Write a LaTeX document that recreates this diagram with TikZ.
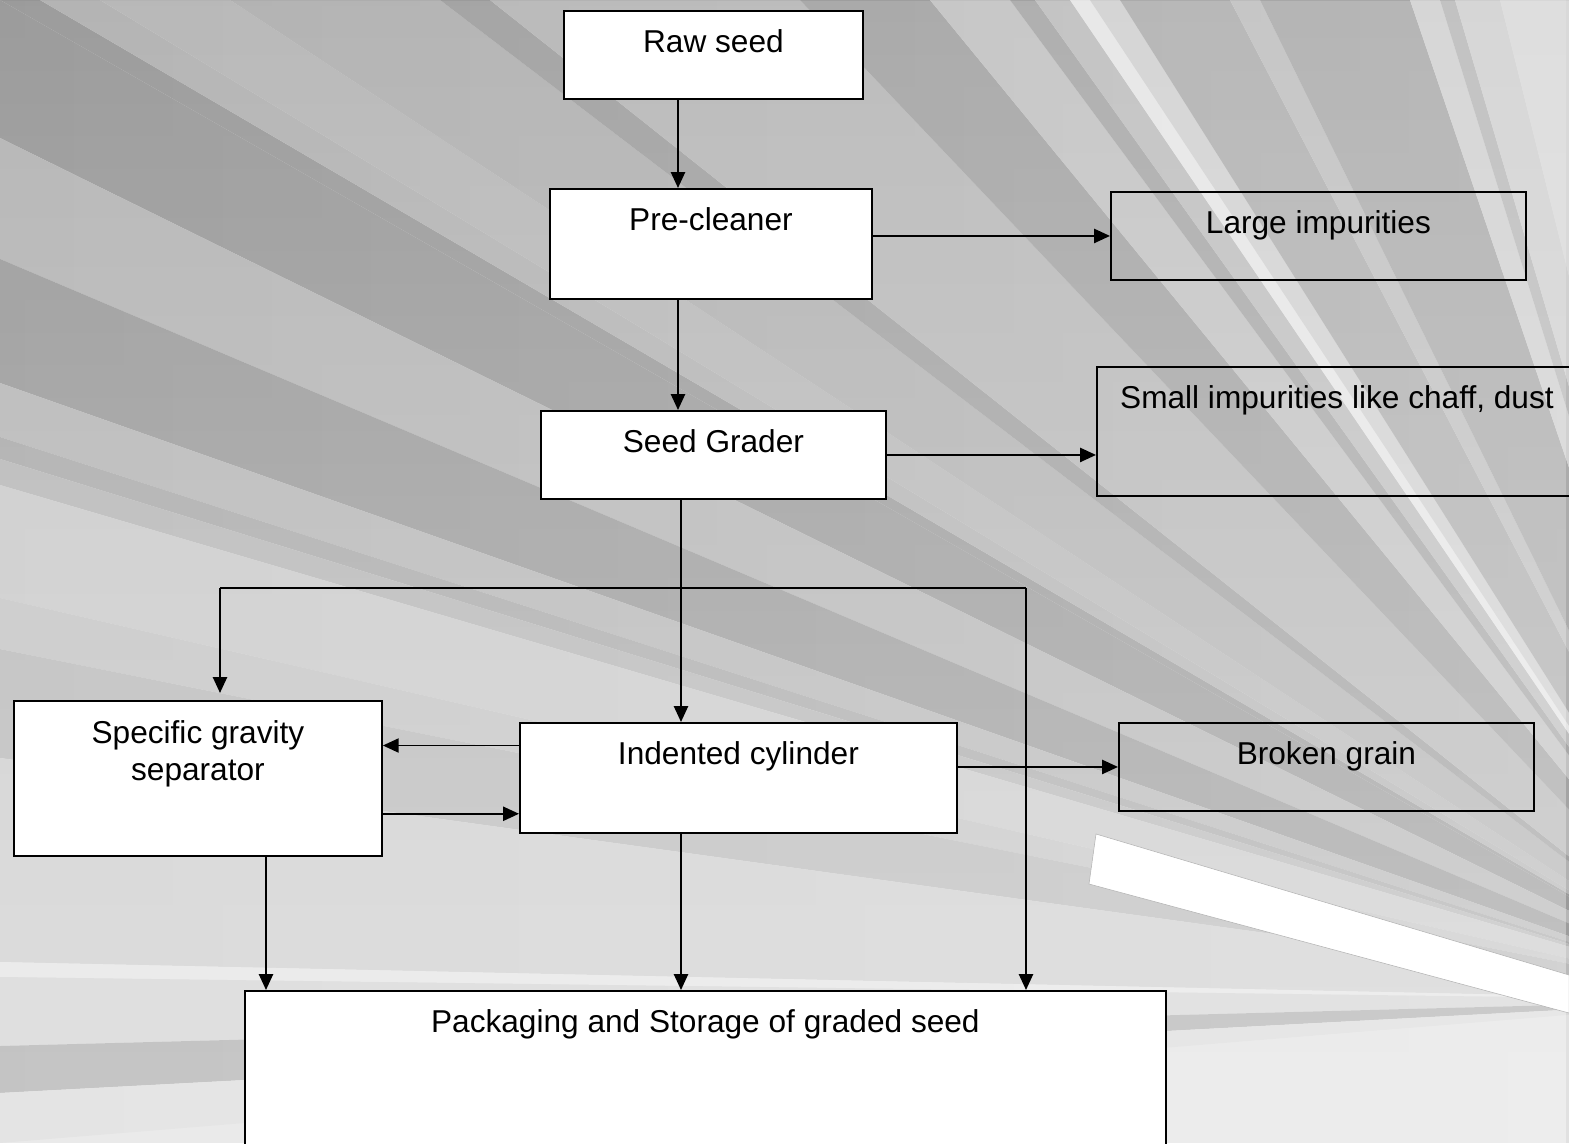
\documentclass[tikz,border=0pt]{standalone}
\usepackage{fontspec}
\setmainfont{Liberation Sans}
\usepackage{tikz}
\usetikzlibrary{arrows.meta, calc, fadings}

\tikzfading[name=downlight, top color=transparent!100, bottom color=transparent!45]
\tikzfading[name=rightlight, left color=transparent!100, right color=transparent!75]

\begin{document}
\begin{tikzpicture}[
  x=0.02cm, y=-0.02cm,
  procbox/.style={draw, line width=1.1pt, fill=white, inner sep=0pt, anchor=north west,
    align=center, text height=0.84cm, font=\fontsize{18}{21.6}\selectfont},
  wastebox/.style={procbox, fill=none},
  flow/.style={line width=1.1pt, -{Triangle[length=9pt, width=8pt]}}
]
  \useasboundingbox (0,0) rectangle (1569,1143);

  % background rays
  \coordinate (C) at (1750,1000);
  \begin{scope}
    \clip (0,0) rectangle (1569,1143);
    \fill[black!14] (0,0) rectangle (1569,1143);
    \foreach \ya/\yb/\g in {0/138/48, 138/259/35, 259/383/47, 383/437/34, 437/459/40,
        459/485/34, 485/598/25, 598/649/28, 649/758/33, 758/962/23, 962/977/13,
        977/1046/21, 1046/1093/40, 1093/1143/18}
      \fill[black!\g] (C) -- (0,\ya) -- (0,\yb) -- cycle;
    \foreach \xa/\xb/\g in {0/40/48, 40/100/36, 100/230/34, 230/440/37, 440/490/45,
        490/800/34, 800/930/44, 930/1010/29, 1010/1035/42, 1035/1070/31, 1070/1090/12,
        1090/1120/22, 1120/1230/38, 1230/1260/30, 1260/1410/40, 1410/1440/22,
        1440/1455/33, 1455/1500/22, 1500/1569/18}
      \fill[black!\g] (C) -- (\xa,0) -- (\xb,0) -- cycle;
    \fill[white, path fading=downlight] (0,-571) rectangle (1569,1714);
    \fill[white, path fading=rightlight] (-785,0) rectangle (2354,1143);
    \fill[white, draw=black!30, line width=0.3pt] (1096,834) -- (1569,975) -- (1569,1013) -- (1089,884) -- cycle;
  \end{scope}

  % boxes
  \node[procbox, minimum width=5.98cm, text depth=0.92cm] (raw) at (563,10) {Raw seed};
  \node[procbox, minimum width=6.44cm, text depth=1.36cm] (pre) at (549,188) {Pre-cleaner};
  \node[procbox, minimum width=6.9cm, text depth=0.92cm] (grader) at (540,410) {Seed Grader};
  \node[wastebox, minimum width=8.3cm, text depth=0.92cm] (large) at (1110,191) {Large impurities};
  \node[wastebox, minimum width=9.6cm, text depth=1.74cm] (small) at (1096,366) {Small impurities like chaff, dust};
  \node[procbox, minimum width=7.36cm, text height=1.6cm, text depth=1.5cm] (sgs) at (13,700) {Specific gravity\\separator};
  \node[procbox, minimum width=8.74cm, text depth=1.36cm] (ind) at (519,722) {Indented cylinder};
  \node[wastebox, minimum width=8.3cm, text depth=0.92cm] (broken) at (1118,722) {Broken grain};
  \node[procbox, minimum width=18.42cm, text depth=2.56cm] (pack) at (244,990) {Packaging and Storage of graded seed};

  % connectors
  \coordinate (spine) at (678,0);
  \coordinate (core) at (681,0);
  \coordinate (busL) at (220,588);
  \coordinate (busR) at (1026,588);
  \coordinate (drop) at (266,0);
  \coordinate (back) at ($(ind.north west)!0.21!(ind.south west)$);
  \coordinate (fwd) at ($(ind.north west)!0.82!(ind.south west)$);

  \draw[flow] (raw.south -| spine) -- (pre.north -| spine);
  \draw[flow] (pre.south -| spine) -- (grader.north -| spine);
  \draw[flow] (pre.east |- large.west) -- (large.west);
  \draw[flow] (grader.east) -- (small.west |- grader.east);
  \draw[flow] (grader.south -| core) -- (ind.north -| core);
  \draw[line width=1.1pt] (busL) -- (busR);
  \draw[flow, shorten >=4pt] (busL) -- (sgs.north -| busL);
  \draw[flow] (busR) -- (pack.north -| busR);
  \draw[flow] (back) -- (sgs.east |- back);
  \draw[flow] (sgs.east |- fwd) -- (fwd);
  \draw[flow] (ind.east |- broken.west) -- (broken.west);
  \draw[flow] (sgs.south -| drop) -- (pack.north -| drop);
  \draw[flow] (ind.south -| core) -- (pack.north -| core);
\end{tikzpicture}
\end{document}
